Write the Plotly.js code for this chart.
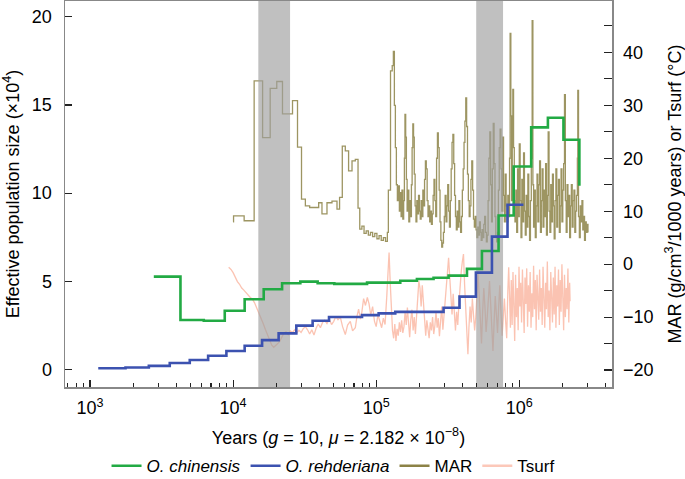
<!DOCTYPE html>
<html>
<head>
<meta charset="utf-8">
<script src="https://cdn.plot.ly/plotly-3.0.1.min.js"></script>
<style>html,body{margin:0;padding:0;background:#fff;}#chart{width:685px;height:479px;}</style>
</head>
<body>
<div id="chart"></div>
<script>
// ---- Data ----
// PSMC step curves (years, Ne x10^4)
const chinensisYears = [2790, 4285, 6237, 8740, 12040, 16360, 21990, 29500, 38980, 50970, 86300, 147300, 192600, 251700, 320500, 430900, 548300, 716500, 914000, 1211000, 1585000, 2036000, 2630000];
const chinensisNe    = [5.26, 2.80, 2.76, 3.33, 3.98, 4.55, 4.89, 4.98, 4.89, 4.85, 4.92, 5.03, 5.13, 5.20, 5.32, 5.70, 6.72, 8.73, 11.51, 13.73, 14.28, 13.03, 10.42];

const rehderianaYears = [1141, 1770, 2576, 3607, 4977, 6689, 8975, 12040, 15940, 20800, 27650, 35950, 46800, 79600, 104000, 135900, 295600, 382300, 497400, 644000, 827600, 1069000];
const rehderianaNe    = [0.06, 0.11, 0.20, 0.36, 0.53, 0.77, 1.04, 1.34, 1.66, 2.04, 2.48, 2.76, 2.97, 3.08, 3.18, 3.26, 3.50, 4.13, 5.49, 7.53, 9.34, 9.34];

// MAR (g/cm3/1000 years), x as log10(years)
const marLogYears = [4.000,4.003,4.077,4.147,4.206,4.259,4.305,4.345,4.415,4.450,4.478,4.505,4.535,4.598,4.621,4.656,4.691,4.726,4.744,4.763,4.784,4.807,4.831,4.854,4.873,4.885,4.900,4.915,4.930,4.945,4.960,4.975,4.990,5.005,5.020,5.035,5.050,5.065,5.078,5.085,5.100,5.112,5.120,5.127,5.134,5.141,5.148,5.156,5.162,5.168,5.174,5.180,5.186,5.192,5.197,5.201,5.206,5.211,5.216,5.222,5.228,5.234,5.240,5.246,5.251,5.256,5.261,5.266,5.272,5.278,5.284,5.290,5.296,5.302,5.308,5.314,5.320,5.326,5.332,5.338,5.344,5.350,5.356,5.362,5.368,5.374,5.380,5.386,5.392,5.398,5.404,5.410,5.416,5.422,5.428,5.434,5.440,5.446,5.452,5.458,5.464,5.470,5.476,5.482,5.488,5.494,5.500,5.506,5.512,5.518,5.524,5.530,5.536,5.542,5.548,5.554,5.560,5.566,5.572,5.578,5.584,5.590,5.596,5.602,5.608,5.614,5.620,5.626,5.632,5.638,5.644,5.650,5.656,5.662,5.668,5.674,5.680,5.686,5.692,5.698,5.704,5.710,5.716,5.722,5.728,5.734,5.740,5.746,5.752,5.758,5.764,5.770,5.776,5.782,5.788,5.794,5.800,5.806,5.812,5.818,5.824,5.830,5.836,5.842,5.848,5.854,5.860,5.866,5.872,5.878,5.884,5.890,5.896,5.902,5.908,5.914,5.920,5.926,5.932,5.936,5.941,5.946,5.951,5.955,5.960,5.965,5.970,5.976,5.982,5.988,5.994,6.000,6.006,6.012,6.018,6.024,6.030,6.036,6.042,6.048,6.054,6.060,6.066,6.072,6.078,6.084,6.090,6.095,6.100,6.106,6.112,6.118,6.124,6.130,6.136,6.142,6.148,6.154,6.160,6.166,6.172,6.178,6.184,6.190,6.196,6.202,6.208,6.214,6.220,6.226,6.232,6.238,6.244,6.250,6.256,6.262,6.268,6.274,6.280,6.286,6.292,6.298,6.304,6.310,6.316,6.322,6.328,6.334,6.340,6.346,6.352,6.358,6.364,6.370,6.376,6.382,6.388,6.394,6.400,6.406,6.409,6.414,6.420,6.426,6.432,6.438,6.444,6.450,6.456,6.462,6.468,6.474,6.480];
const marValues = [8.0,9.1,8.2,34.6,23.9,33.2,34.5,28.4,30.9,22.1,12.3,11.0,10.7,11.6,9.5,11.6,11.9,10.4,12.6,22.3,21.4,17.6,19.5,19.8,10.6,6.6,7.2,5.8,6.3,5.5,6.0,5.2,5.8,4.8,5.4,4.5,5.0,4.3,6.0,14.0,36.5,37.5,40.2,30.0,22.0,15.0,12.0,14.8,10.0,13.5,9.0,14.0,8.5,12.0,20.0,28.3,24.0,16.0,10.0,14.0,8.0,12.0,9.0,15.0,22.0,26.5,24.0,17.0,11.0,8.0,12.0,9.5,13.0,10.0,8.5,12.0,9.0,14.0,11.0,16.0,19.5,18.0,12.0,9.0,11.0,8.0,10.0,7.5,9.5,13.0,16.0,12.0,9.0,20.0,24.8,22.0,14.0,8.0,4.5,3.2,4.0,6.0,9.0,13.0,8.0,11.0,15.0,10.0,7.0,12.0,18.0,23.0,24.5,19.0,13.0,9.0,6.5,10.0,7.0,12.0,8.0,6.0,9.0,14.0,18.0,23.0,27.0,31.4,26.0,17.0,12.0,9.0,11.0,16.0,19.5,14.0,8.5,7.0,9.0,6.5,5.0,7.0,5.5,8.0,6.0,4.5,6.5,5.0,7.5,9.0,6.0,4.2,5.5,12.0,20.0,25.0,15.0,8.0,18.0,26.6,19.0,9.0,5.0,4.2,6.0,14.0,22.0,25.5,18.0,10.0,24.0,13.0,8.0,17.0,11.0,8.0,13.0,9.0,20.0,43.6,28.0,12.0,24.0,33.0,22.0,12.0,8.0,14.0,6.0,18.0,9.0,22.7,12.0,5.0,16.0,8.0,21.0,10.0,5.5,13.0,7.0,17.0,9.0,4.5,12.0,20.0,46.0,15.0,7.0,14.0,5.0,11.0,17.0,8.0,15.0,19.5,6.0,12.0,18.0,7.0,14.0,9.0,19.0,5.5,13.0,25.0,10.0,6.0,15.0,8.0,17.0,11.0,4.8,12.0,18.0,7.0,13.0,16.0,6.0,11.0,18.0,8.0,14.0,19.0,32.0,12.0,6.0,15.0,9.0,13.0,5.0,11.0,15.0,7.0,12.0,14.0,6.0,10.0,13.0,20.0,32.8,9.0,5.0,11.0,8.0,12.0,6.5,9.0,4.5,8.0,6.0,7.5,6.0];

// Tsurf (°C), x as log10(years)
const tsurfLogYears = [3.969,3.985,4.000,4.015,4.030,4.045,4.060,4.075,4.090,4.105,4.120,4.135,4.150,4.165,4.180,4.195,4.210,4.225,4.240,4.255,4.270,4.284,4.298,4.312,4.326,4.340,4.355,4.370,4.385,4.400,4.415,4.430,4.445,4.460,4.475,4.490,4.505,4.520,4.535,4.550,4.565,4.580,4.595,4.610,4.625,4.640,4.656,4.672,4.688,4.703,4.718,4.733,4.749,4.765,4.784,4.800,4.819,4.835,4.854,4.866,4.877,4.890,4.900,4.912,4.925,4.938,4.950,4.962,4.975,4.988,5.000,5.012,5.025,5.038,5.050,5.062,5.074,5.082,5.090,5.098,5.106,5.114,5.122,5.130,5.138,5.146,5.154,5.162,5.170,5.178,5.186,5.194,5.202,5.210,5.218,5.226,5.234,5.242,5.250,5.258,5.266,5.274,5.282,5.290,5.298,5.306,5.314,5.322,5.330,5.338,5.346,5.354,5.362,5.370,5.378,5.386,5.394,5.402,5.410,5.418,5.426,5.434,5.442,5.450,5.458,5.466,5.474,5.482,5.490,5.498,5.506,5.514,5.522,5.530,5.538,5.546,5.554,5.562,5.570,5.578,5.586,5.594,5.602,5.610,5.618,5.626,5.634,5.641,5.648,5.656,5.664,5.672,5.680,5.688,5.696,5.704,5.712,5.720,5.728,5.736,5.744,5.752,5.760,5.768,5.776,5.784,5.792,5.800,5.808,5.816,5.824,5.832,5.840,5.848,5.856,5.864,5.872,5.880,5.888,5.896,5.904,5.912,5.920,5.926,5.932,5.938,5.944,5.950,5.956,5.962,5.968,5.974,5.980,5.986,5.992,5.998,6.004,6.010,6.016,6.022,6.028,6.034,6.040,6.046,6.052,6.058,6.064,6.070,6.076,6.082,6.088,6.094,6.100,6.106,6.112,6.118,6.124,6.130,6.136,6.142,6.148,6.154,6.160,6.166,6.172,6.178,6.184,6.190,6.196,6.202,6.208,6.214,6.220,6.226,6.232,6.238,6.244,6.250,6.256,6.262,6.268,6.274,6.280,6.286,6.292,6.298,6.304,6.310,6.316,6.322,6.328,6.334,6.340,6.346,6.352,6.355];
const tsurfValues = [-0.6,-1.0,-1.6,-2.6,-3.3,-3.8,-4.5,-4.9,-5.4,-5.9,-6.3,-6.6,-7.3,-8.3,-9.2,-10.0,-11.2,-12.3,-13.2,-14.3,-15.3,-15.7,-15.4,-15.0,-14.6,-13.8,-13.0,-12.8,-13.3,-12.6,-12.9,-12.4,-13.0,-12.5,-12.9,-12.2,-11.8,-12.4,-13.2,-12.4,-13.4,-12.1,-11.3,-12.0,-11.0,-10.6,-11.2,-10.4,-11.4,-10.8,-9.9,-10.5,-10.0,-11.8,-13.3,-11.5,-10.8,-12.6,-12.0,-9.8,-8.5,-10.4,-9.0,-6.5,-7.8,-6.3,-7.5,-9.6,-8.0,-10.8,-11.8,-9.5,-10.6,-12.0,-10.2,-11.4,-6.0,-2.0,2.2,-3.5,-9.0,-12.5,-14.0,-11.3,-14.5,-12.2,-13.5,-11.0,-12.8,-10.6,-13.0,-11.8,-9.0,-11.5,-8.2,-12.0,-13.8,-10.4,-8.6,-12.5,-10.0,-13.2,-9.0,-5.0,-3.2,-4.5,-8.0,-4.0,-7.0,-11.2,-13.5,-10.6,-12.8,-14.0,-11.0,-12.5,-10.0,-13.2,-11.6,-9.0,-12.0,-10.2,-13.6,-11.0,-8.0,-12.4,-9.5,-6.0,-3.5,-1.0,1.2,-2.5,-7.0,-9.5,-5.6,-10.0,-12.5,-9.0,-11.5,-7.5,-4.0,-1.5,0.5,1.9,-4.0,-9.5,-14.0,-17.0,-12.0,-8.0,-11.0,-6.5,-9.5,-12.5,-10.0,-5.0,-1.8,-6.0,-11.5,-15.0,-9.0,-4.5,-8.0,-12.8,-10.0,-6.5,-3.2,-7.5,-12.0,-16.4,-11.0,-6.0,-9.5,-13.0,-8.0,-4.0,-9.0,-13.5,-10.0,-6.5,-10.5,-14.0,-5.0,-0.6,-6.0,-12.0,-3.0,-11.5,-1.5,-9.0,-14.5,-2.0,-10.0,-4.5,-12.5,-0.5,-8.0,-3.5,-11.0,-1.0,-9.5,-13.0,-2.5,-7.5,-0.8,-11.8,-4.0,-9.0,-1.5,-12.0,-5.5,-10.0,-0.3,-8.5,-3.0,-12.5,-2.0,-7.0,-10.5,-1.0,-9.0,-4.5,-11.5,-0.5,-6.5,-12.0,-3.5,-8.5,0.5,-10.0,-5.0,-12.5,-1.5,-7.5,-11.0,-2.5,-9.5,-0.5,-12.0,-4.0,-8.0,-1.0,-11.5,-3.0,-9.0,0.0,-7.0,-12.5,-2.0,-10.0,-4.5,-8.5,-0.8,-11.0,-3.5,-7.0];

// Shaded periods (years)
const bandStarts = [15000, 500000];
const bandEnds   = [25000, 770000];

// Axis ticks
const xTickVals  = [1e3, 1e4, 1e5, 1e6];
const xTickText  = ['10<sup>3</sup>', '10<sup>4</sup>', '10<sup>5</sup>', '10<sup>6</sup>'];
const neTickVals = [0, 5, 10, 15, 20];
const marTickVals = [-20, -10, 0, 10, 20, 30, 40];
const marTickText = ['\u221220', '\u221210', '0', '10', '20', '30', '40'];
const marMinorVals = [-15, -5, 5, 15, 25, 35, 45];

// ---- Build ----
const FONT = 'Liberation Sans, Arial, Helvetica, sans-serif';
const X_RANGE = [2.825, 6.648];
const MAR_RANGE = [-23.2, 49.7];
const NE_RANGE = [-1.0, 20.9];
const MAR_COLOR = 'rgb(140,130,70)';
const TSURF_COLOR = 'rgb(250,185,165)';

const toYears = a => a.map(v => Math.pow(10, v));

const xMinor = [];
for (let k = 2; k <= 6; k++) for (let m = 2; m <= 9; m++) {
  const v = m * Math.pow(10, k);
  if (Math.log10(v) > X_RANGE[0] && Math.log10(v) < X_RANGE[1]) xMinor.push(v);
}

const bandX = [], bandY = [];
bandStarts.forEach((s, i) => {
  const e = bandEnds[i];
  bandX.push(s, e, e, s, s, null);
  bandY.push(MAR_RANGE[0] - 5, MAR_RANGE[0] - 5, MAR_RANGE[1] + 5, MAR_RANGE[1] + 5, MAR_RANGE[0] - 5, null);
});

const traces = [
  { x: toYears(marLogYears), y: marValues, yaxis: 'y', type: 'scatter', mode: 'lines',
    line: { shape: 'hv', color: MAR_COLOR, width: 1.3 }, opacity: 0.85,
    name: 'MAR', showlegend: false, hoverinfo: 'skip' },
  { x: toYears(tsurfLogYears), y: tsurfValues, yaxis: 'y', type: 'scatter', mode: 'lines',
    line: { color: TSURF_COLOR, width: 1.3 }, opacity: 0.85,
    name: 'Tsurf', showlegend: false, hoverinfo: 'skip' },
  { x: bandX, y: bandY, yaxis: 'y', type: 'scatter', mode: 'none', fill: 'toself',
    fillcolor: 'rgba(160,160,160,0.66)', showlegend: false, hoverinfo: 'skip' },
  { x: chinensisYears, y: chinensisNe, yaxis: 'y2', type: 'scatter', mode: 'lines',
    line: { shape: 'hv', color: 'rgb(34,170,68)', width: 2.6 },
    name: '<i>O. chinensis</i>', legendrank: 1 },
  { x: rehderianaYears, y: rehderianaNe, yaxis: 'y2', type: 'scatter', mode: 'lines',
    line: { shape: 'hv', color: 'rgb(60,82,176)', width: 2.6 },
    name: '<i>O. rehderiana</i>', legendrank: 2 },
  // legend keys for the thin series (drawn with a thicker key like the reference)
  { x: [null], y: [null], yaxis: 'y', type: 'scatter', mode: 'lines',
    line: { color: MAR_COLOR, width: 2.6 }, name: 'MAR', legendrank: 3 },
  { x: [null], y: [null], yaxis: 'y', type: 'scatter', mode: 'lines',
    line: { color: 'rgb(252,200,185)', width: 2.6 }, name: 'Tsurf', legendrank: 4 }
];

const layout = {
  width: 685, height: 479,
  margin: { l: 65, r: 73, t: 1, b: 92, autoexpand: false },
  paper_bgcolor: '#fff', plot_bgcolor: '#fff',
  font: { family: FONT, size: 18, color: '#000' },
  showlegend: true,
  legend: { orientation: 'h', x: 0.49, xanchor: 'center', y: -0.205, yanchor: 'middle',
            font: { family: FONT, size: 17, color: '#000' }, bgcolor: 'rgba(0,0,0,0)' },
  xaxis: {
    type: 'log', range: X_RANGE, tickvals: xTickVals, ticktext: xTickText,
    ticks: 'inside', ticklen: 7, tickwidth: 1.2, tickcolor: '#222',
    showline: true, linecolor: '#888', linewidth: 1.5, mirror: true,
    showgrid: false, zeroline: false, ticklabelstandoff: 4,
    tickfont: { size: 18 },
    minor: { tickvals: xMinor, ticks: 'inside', ticklen: 4, tickwidth: 1.1, tickcolor: '#222', showgrid: false },
    title: { text: 'Years (<i>g</i> = 10, <i>\u03bc</i> = 2.182 \u00d7 10<sup>\u22128</sup>)', font: { size: 18 }, standoff: 14 }
  },
  yaxis: {
    range: MAR_RANGE, side: 'right', tickvals: marTickVals, ticktext: marTickText,
    ticks: 'inside', ticklen: 8, tickwidth: 1.2, tickcolor: '#222',
    showline: true, linecolor: '#888', linewidth: 1.5,
    showgrid: false, zeroline: false, ticklabelstandoff: 6,
    minor: { tickvals: marMinorVals, ticks: 'inside', ticklen: 8, tickwidth: 1.2, tickcolor: '#222', showgrid: false },
    title: { text: 'MAR (g/cm<sup>3</sup>/1000 years) or Tsurf (\u00b0C)', font: { size: 18 }, standoff: 16 }
  },
  yaxis2: {
    overlaying: 'y', side: 'left', range: NE_RANGE, tickvals: neTickVals,
    ticks: 'inside', ticklen: 7, tickwidth: 1.2, tickcolor: '#222',
    showline: true, linecolor: '#888', linewidth: 1.5,
    showgrid: false, zeroline: false, ticklabelstandoff: 8,
    title: { text: 'Effective population size (\u00d710<sup>4</sup>)', font: { size: 18 }, standoff: 8 }
  }
};

Plotly.newPlot('chart', traces, layout, { staticPlot: true, displayModeBar: false });
</script>
</body>
</html>
